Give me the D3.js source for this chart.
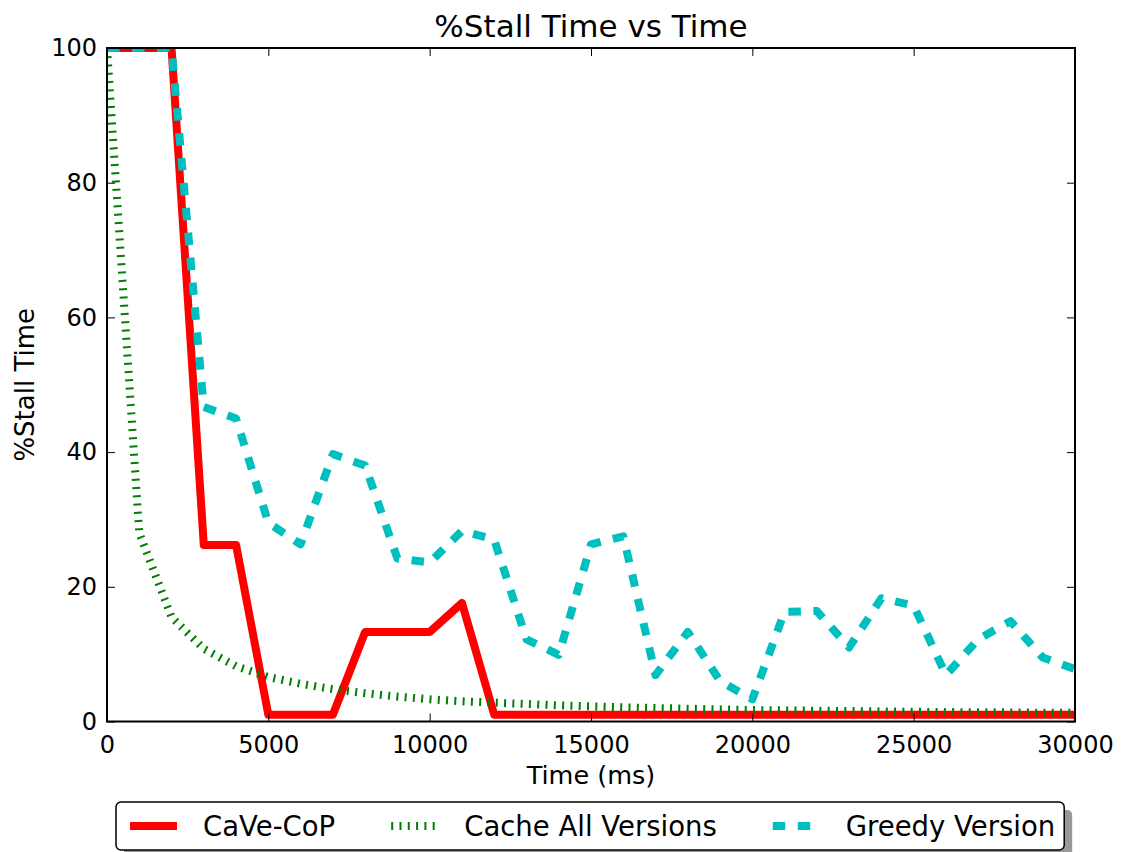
<!DOCTYPE html>
<html>
<head>
<meta charset="utf-8">
<script src="https://cdn.jsdelivr.net/npm/d3@7/dist/d3.min.js"></script>
<style>
  body { margin: 0; background: #fff; }
  svg { display: block; font-family: "DejaVu Sans", sans-serif; }
</style>
</head>
<body>
<div id="chart"></div>
<script>
// time axis (ms), one sample per second
const times = [0, 1000, 2000, 3000, 4000, 5000, 6000, 7000, 8000, 9000, 10000,
  11000, 12000, 13000, 14000, 15000, 16000, 17000, 18000, 19000, 20000,
  21000, 22000, 23000, 24000, 25000, 26000, 27000, 28000, 29000, 30000];

const caveCop = [100, 100, 100, 26.2, 26.2, 1, 1, 1, 13.3, 13.3, 13.3,
  17.6, 1, 1, 1, 1, 1, 1, 1, 1, 1,
  1, 1, 1, 1, 1, 1, 1, 1, 1, 1];

const cacheAll = [100, 28, 15.5, 10.8, 8.2, 6.6, 5.6, 4.8, 4.2, 3.7, 3.3,
  3.0, 2.8, 2.6, 2.4, 2.25, 2.1, 2.0, 1.9, 1.8, 1.7,
  1.65, 1.6, 1.55, 1.5, 1.45, 1.4, 1.38, 1.35, 1.3, 1.3];

const greedy = [100, 100, 100, 46.7, 45, 29.5, 26.3, 39.7, 38, 24.2, 23.6,
  28.3, 27, 12.2, 9.9, 26.3, 27.5, 6.9, 13.3, 6, 3.3,
  16.3, 16.4, 11, 18.3, 17.2, 6.9, 12.2, 14.9, 9.5, 7.8];

const xTicks = [0, 5000, 10000, 15000, 20000, 25000, 30000];
const yTicks = [0, 20, 40, 60, 80, 100];

const seriesNames = ["CaVe-CoP", "Cache All Versions", "Greedy Version"];
const seriesValues = [caveCop, cacheAll, greedy];
const seriesColors = ["#ff0000", "#008000", "#00bfbf"];
const seriesDash = [null, "2,6.3", "12.5,12.5"];

const W = 1122, H = 852;
const margin = { top: 48, right: 47, bottom: 130.5, left: 107 };
const width = W - margin.left - margin.right;
const height = H - margin.top - margin.bottom;

const svg = d3.select("#chart").append("svg")
  .attr("width", W).attr("height", H);

const g = svg.append("g")
  .attr("transform", `translate(${margin.left},${margin.top})`);

const x = d3.scaleLinear().domain([0, 30000]).range([0, width]);
const y = d3.scaleLinear().domain([0, 100]).range([height, 0]);

svg.append("defs").append("clipPath").attr("id", "plot-clip")
  .append("rect").attr("width", width).attr("height", height);

// lines
const line = d3.line()
  .x((d, i) => x(times[i]))
  .y((d) => y(d));

const lines = g.append("g").attr("clip-path", "url(#plot-clip)");
seriesValues.forEach((vals, i) => {
  lines.append("path")
    .datum(vals)
    .attr("fill", "none")
    .attr("stroke", seriesColors[i])
    .attr("stroke-width", 8)
    .attr("stroke-linejoin", "round")
    .attr("stroke-dasharray", seriesDash[i])
    .attr("d", line);
});

// ticks, inward on all four sides
const tickLen = 8;
const axisStyle = (sel) => {
  sel.select(".domain").remove();
  sel.selectAll(".tick line").attr("stroke", "#000").attr("stroke-width", 1);
  sel.selectAll(".tick text").attr("fill", "#000").style("font-size", "24px")
    .style("font-family", "DejaVu Sans, sans-serif");
};

g.append("g").attr("transform", `translate(0,${height})`)
  .call(d3.axisBottom(x).tickValues(xTicks).tickFormat(d3.format("d"))
    .tickSizeInner(-tickLen).tickSizeOuter(0).tickPadding(14))
  .call(axisStyle);

g.append("g")
  .call(d3.axisTop(x).tickValues(xTicks).tickFormat("")
    .tickSizeInner(-tickLen).tickSizeOuter(0))
  .call(axisStyle);

g.append("g")
  .call(d3.axisLeft(y).tickValues(yTicks).tickFormat(d3.format("d"))
    .tickSizeInner(-tickLen).tickSizeOuter(0).tickPadding(10))
  .call(axisStyle);

g.append("g").attr("transform", `translate(${width},0)`)
  .call(d3.axisRight(y).tickValues(yTicks).tickFormat("")
    .tickSizeInner(-tickLen).tickSizeOuter(0))
  .call(axisStyle);

// frame
g.append("rect")
  .attr("width", width).attr("height", height)
  .attr("fill", "none").attr("stroke", "#000").attr("stroke-width", 2);

// title and axis labels
svg.append("text")
  .attr("x", margin.left + width / 2).attr("y", 37)
  .attr("text-anchor", "middle").style("font-size", "31px")
  .text("%Stall Time vs Time");

svg.append("text")
  .attr("x", margin.left + width / 2).attr("y", 784)
  .attr("text-anchor", "middle").style("font-size", "25.5px")
  .text("Time (ms)");

svg.append("text")
  .attr("transform", `translate(34,${margin.top + height / 2}) rotate(-90)`)
  .attr("text-anchor", "middle").style("font-size", "26px")
  .text("%Stall Time");

// legend
const legend = svg.append("g");
const shadow = legend.append("rect");
const box = legend.append("rect");
const items = legend.append("g");
const legY = 826, handleLen = 47, handleGap = 26, colGap = 56;
let cx = 0;
seriesNames.forEach((name, i) => {
  items.append("line")
    .attr("x1", cx).attr("x2", cx + handleLen)
    .attr("y1", legY).attr("y2", legY)
    .attr("stroke", seriesColors[i]).attr("stroke-width", 8)
    .attr("stroke-dasharray", seriesDash[i]);
  const t = items.append("text")
    .attr("x", cx + handleLen + handleGap).attr("y", legY)
    .attr("dy", "0.35em").style("font-size", "27.5px")
    .text(name);
  cx += handleLen + handleGap + t.node().getComputedTextLength() + colGap;
});
const itemsW = cx - colGap;
const padL = 14, padR = 9;
const boxW = itemsW + padL + padR;
const boxX = 116;
items.attr("transform", `translate(${boxX + padL},0)`);
box.attr("x", boxX).attr("y", 802).attr("width", boxW).attr("height", 48)
  .attr("rx", 5).attr("fill", "#fff").attr("stroke", "#000").attr("stroke-width", 1.5);
shadow.attr("x", boxX + 8).attr("y", 810).attr("width", boxW).attr("height", 48)
  .attr("rx", 5).attr("fill", "#999");
</script>
</body>
</html>
